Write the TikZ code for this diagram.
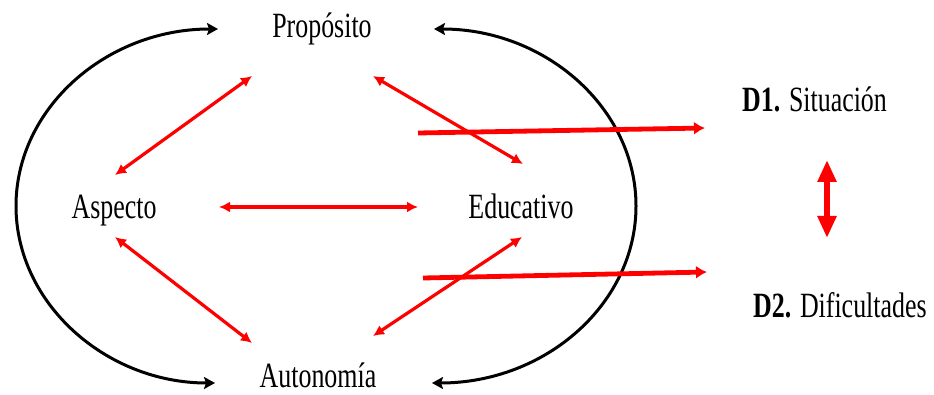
\documentclass[tikz,border=0pt]{standalone}
\usepackage{fontspec}
\setmainfont{Liberation Serif}[FakeStretch=0.73]
\usetikzlibrary{arrows.meta}
\begin{document}
\begin{tikzpicture}[x=1pt,y=-1pt,
  lbl/.style={font=\fontsize{35.5}{38}\selectfont, inner sep=0pt, anchor=base},
  dlbl/.style={font=\fontsize{35.5}{38}\selectfont, inner sep=0pt, anchor=base west},
  blackarc/.style={draw=black, line width=3pt, {Stealth[length=11pt,width=12pt,inset=2pt]}-{Stealth[length=11pt,width=12pt,inset=2pt]}},
  redlink/.style={draw=red, line width=3.2pt, {Latex[length=11pt,width=11pt]}-{Latex[length=11pt,width=11pt]}},
  redlong/.style={draw=red, line width=4.8pt, -{Latex[length=11pt,width=13pt]}},
  redbig/.style={draw=red, line width=6pt, {Triangle[length=22pt,width=18pt]}-{Triangle[length=22pt,width=18pt]}}
]
\useasboundingbox (0,0) rectangle (934,395);

% text nodes
\node[lbl] (prop) at (322,38) {Propósito};
\node[lbl] (asp)  at (114,219) {Aspecto};
\node[lbl] (edu)  at (521,219) {Educativo};
\node[lbl] (aut)  at (318,387) {Autonomía};
\node[dlbl] (d1) at (742,112) {\textbf{D1.} Situación};
\node[dlbl] (d2) at (753,317) {\textbf{D2.} Dificultades};

% arc end points
\coordinate (lt) at (218,29);
\coordinate (ll) at (16,206);
\coordinate (lb) at (215,383);
\coordinate (rt) at (434,29);
\coordinate (rr) at (636,206);
\coordinate (rb) at (432,383);

\draw[blackarc] (lt) .. controls (106.4,29) and (16,108.2) .. (ll)
                     .. controls (16,303.8) and (106.4,383) .. (lb);
\draw[blackarc] (rt) .. controls (545.6,29) and (636,108.2) .. (rr)
                     .. controls (636,303.8) and (545.6,383) .. (rb);

% red link end points
\coordinate (pa1) at (252,76);  \coordinate (pa2) at (115,175);
\coordinate (ae1) at (219,207); \coordinate (ae2) at (418,207);
\coordinate (au1) at (115,237); \coordinate (au2) at (252,343);
\coordinate (pe1) at (373,76);  \coordinate (pe2) at (523,164);
\coordinate (eu1) at (522,237); \coordinate (eu2) at (373,336);

\draw[redlink] (pa1) -- (pa2);
\draw[redlink] (ae1) -- (ae2);
\draw[redlink] (au1) -- (au2);
\draw[redlink] (pe1) -- (pe2);
\draw[redlink] (eu1) -- (eu2);

% long arrows to D1 / D2
\coordinate (s1) at (418,133); \coordinate (e1) at (705,128);
\coordinate (s2) at (423,278); \coordinate (e2) at (707,272);
\draw[redlong] (s1) -- (e1);
\draw[redlong] (s2) -- (e2);

% vertical double arrow
\coordinate (v1) at (827,160); \coordinate (v2) at (827,238);
\draw[redbig] (v1) -- (v2);
\end{tikzpicture}
\end{document}
